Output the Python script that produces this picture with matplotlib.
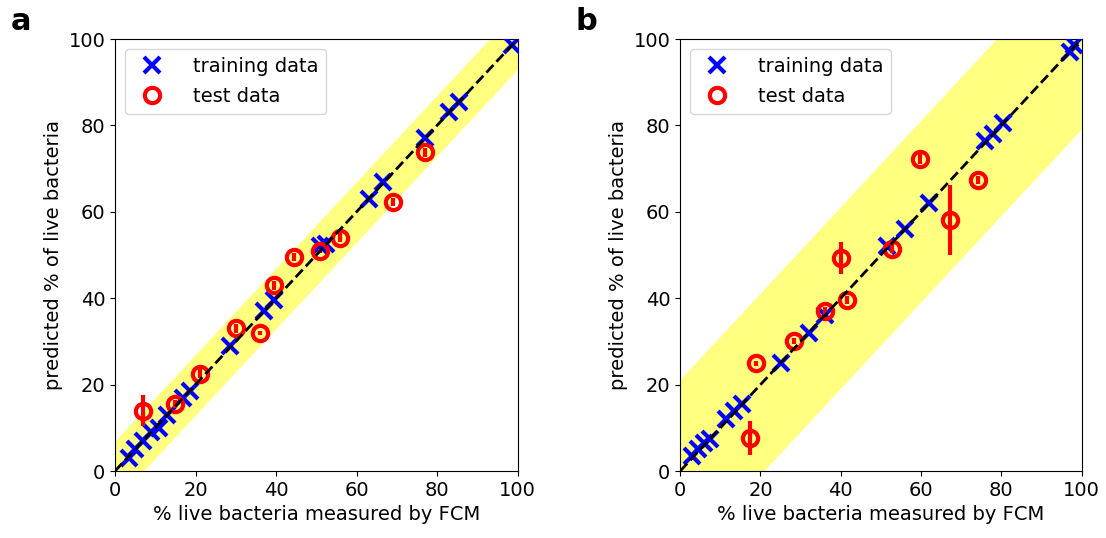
"""Predicted vs measured live-bacteria fraction, two panels."""

import matplotlib

matplotlib.use("Agg")
import matplotlib.pyplot as plt
import numpy as np

# panel a
train_a_x = [3.5, 5, 7, 9, 11, 13, 17, 18.5, 28.5, 37, 39.5, 51, 52.5, 63, 66.5, 77, 83, 85.5, 98.5]
train_a_y = [3, 5, 7, 9, 10, 13, 17, 18.5, 29, 37, 39.5, 52, 52.5, 63, 67, 77, 83, 85.5, 98.5]
test_a_x = [7, 15, 21, 30, 36, 39.5, 44.5, 51, 56, 69, 77]
test_a_y = [14, 15.5, 22.5, 33, 32, 43, 49.5, 51, 54, 62.3, 73.8]
test_a_err = [3.5, 1, 1, 1, 0.5, 1, 1, 0.5, 1, 1, 1]
band_a = 7

# panel b
train_b_x = [3, 4.5, 6, 7.5, 11.5, 13.5, 15.5, 25, 32, 36, 51.5, 56, 62, 76, 78, 80.5, 97, 98]
train_b_y = [3.5, 5, 6.5, 7.5, 12, 14, 15.5, 25, 32, 36, 52, 56, 62, 76.5, 78, 80.5, 97, 98.5]
test_b_x = [17.5, 18.8, 28.3, 36, 40, 41.5, 52.7, 59.8, 67.2, 74.2]
test_b_y = [7.6, 24.9, 30, 37, 49.3, 39.6, 51.5, 72.3, 58.1, 67.4]
test_b_err = [3.9, 0.5, 0.7, 1, 3.8, 1, 1, 1.2, 8, 1]
band_b = 21

plt.rcParams["font.family"] = "DejaVu Sans"
plt.rcParams["font.size"] = 14

fig = plt.figure(figsize=(11.06, 5.38), dpi=100)
ax_a = fig.add_axes([0.104, 0.1245, 0.364, 0.803])
ax_b = fig.add_axes([0.615, 0.1245, 0.363, 0.803])


def draw_panel(ax, tx, ty, sx, sy, serr, band, letter):
    line = np.array([0, 100])
    ax.fill_between(line, line - band, line + band, color="#ffff80", linewidth=0, zorder=0)
    # the identity line sits on top of the markers, as in the original
    ax.plot(line, line, "--", color="black", linewidth=2, zorder=5)
    (train,) = ax.plot(tx, ty, "x", color="blue", markersize=12, markeredgewidth=3,
                       linestyle="none", zorder=3)
    test = ax.errorbar(sx, sy, yerr=serr, fmt="o", color="red", markersize=11,
                       markeredgewidth=3, markerfacecolor="none", elinewidth=3,
                       capsize=0, zorder=4)
    ax.set_xlim(0, 100)
    ax.set_ylim(0, 100)
    ax.set_xticks([0, 20, 40, 60, 80, 100])
    ax.set_yticks([0, 20, 40, 60, 80, 100])
    ax.set_xlabel("% live bacteria measured by FCM")
    ax.set_ylabel("predicted % of live bacteria")
    ax.legend([train, test.lines[0]], ["training data", "test data"],
              loc="upper left", fontsize=14, handletextpad=1.1, labelspacing=0.6)
    ax.text(-0.26, 1.075, letter, transform=ax.transAxes, fontsize=22,
            fontweight="bold", va="top")


draw_panel(ax_a, train_a_x, train_a_y, test_a_x, test_a_y, test_a_err, band_a, "a")
draw_panel(ax_b, train_b_x, train_b_y, test_b_x, test_b_y, test_b_err, band_b, "b")

fig.savefig("out.png", dpi=100)
plt.close(fig)
